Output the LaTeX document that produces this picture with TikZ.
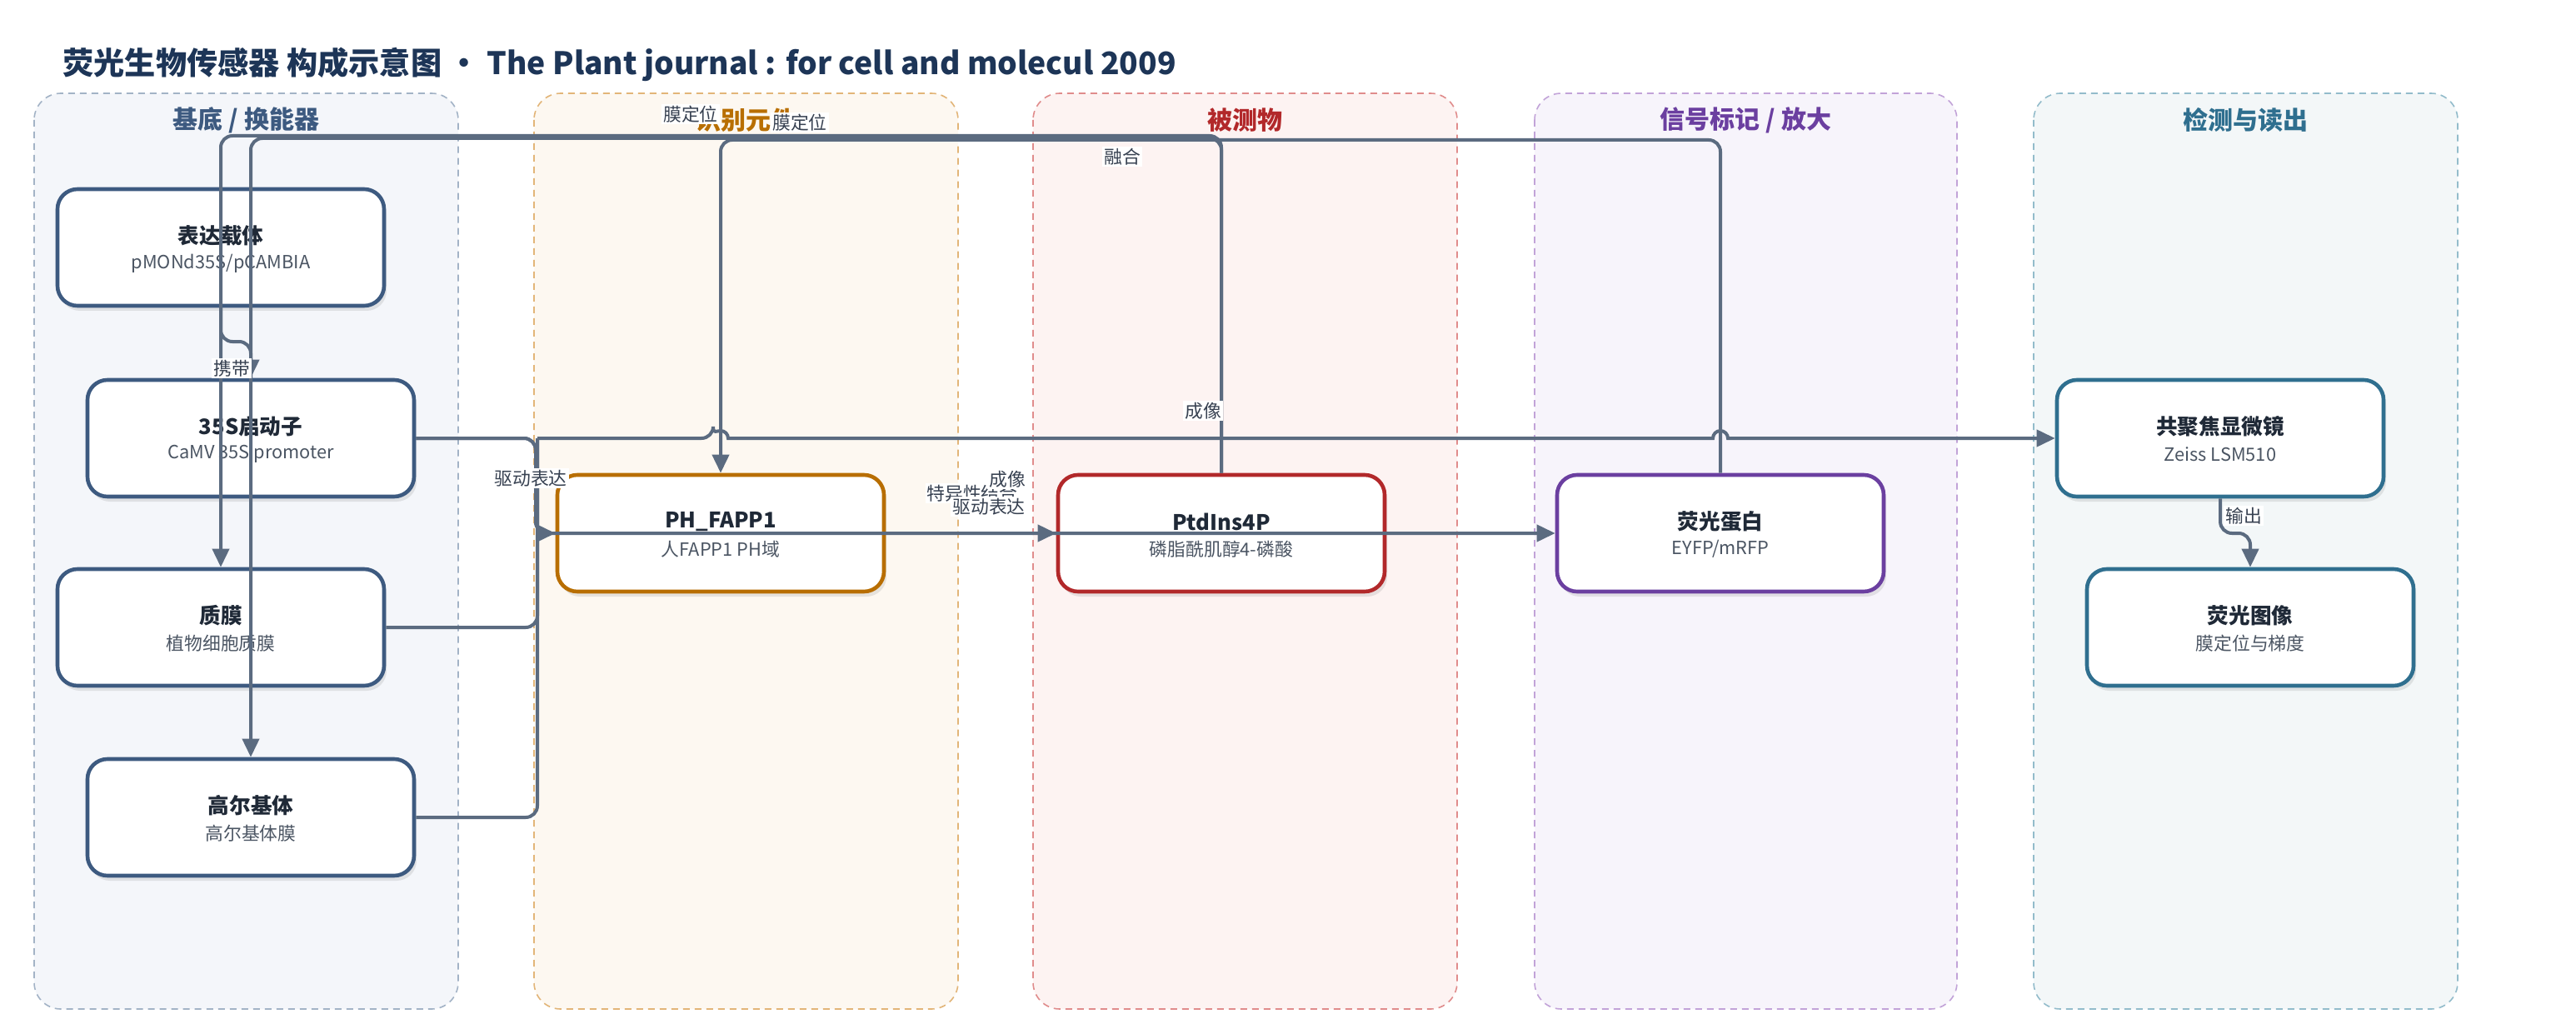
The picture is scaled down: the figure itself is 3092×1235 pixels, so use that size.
\documentclass[tikz,border=0pt]{standalone}
\usepackage{fontspec}
\setmainfont{Noto Sans CJK SC}
\usetikzlibrary{arrows.meta,shadows,calc}
\definecolor{edgec}{HTML}{5B6B80}
\definecolor{titlec}{HTML}{1D3557}
\definecolor{ntc}{HTML}{1F2937}
\definecolor{nsc}{HTML}{4B5563}
\definecolor{lblc}{HTML}{374151}
\definecolor{cA}{HTML}{3D5A80}\definecolor{fA}{HTML}{F4F6FA}\definecolor{bA}{HTML}{A3B3C6}
\definecolor{cB}{HTML}{B86E00}\definecolor{fB}{HTML}{FDF8F1}\definecolor{bB}{HTML}{E2B578}
\definecolor{cC}{HTML}{B2282A}\definecolor{fC}{HTML}{FDF3F2}\definecolor{bC}{HTML}{E08C8C}
\definecolor{cD}{HTML}{6B3FA0}\definecolor{fD}{HTML}{F7F4FB}\definecolor{bD}{HTML}{C2A3D8}
\definecolor{cE}{HTML}{2F6F8F}\definecolor{fE}{HTML}{F3F7F8}\definecolor{bE}{HTML}{93BCCB}
\newcommand\mknode[6]{%
  \node[nbox=#4] (#1) at (#2,#3) {};
  \node[ntitle] (#1-t) at (#2,#3-14) {#5};
  \node[nsub] (#1-s) at (#2,#3+19) {#6};
}
\newcommand\mklane[7]{%
  \draw[lanebox, fill=#6, draw=#7] (#1,112) rectangle (#2,1211);
  \node[lanetitle, text=#5] (#3) at ({(#1+#2)/2},144) {#4};
}
\begin{document}
\begin{tikzpicture}[x=0.5pt,y=-0.5pt,
  nbox/.style={draw=#1, line width=2.3pt, fill=white, rounded corners=12pt,
    minimum width=196pt, minimum height=70pt, inner sep=0pt,
    drop shadow={shadow xshift=1.5pt, shadow yshift=-3pt, opacity=0.15, fill=black!60}},
  ntitle/.style={font=\fontsize{12.8}{14}\selectfont\bfseries, text=ntc, inner sep=0pt},
  nsub/.style={font=\fontsize{10.9}{12}\selectfont, text=nsc, inner sep=0pt},
  lanebox/.style={line width=0.8pt, dash pattern=on 4pt off 3pt, rounded corners=16pt},
  lanetitle/.style={font=\fontsize{15}{17}\selectfont\bfseries, inner sep=0pt},
  edge/.style={draw=edgec, line width=2pt, rounded corners=7pt,
    -{Triangle[length=11pt,width=10pt]}},
  plain/.style={draw=edgec, line width=2pt, rounded corners=7pt},
  lbl/.style={fill=white, inner sep=1pt, text=lblc, font=\fontsize{10.9}{12}\selectfont}]
\useasboundingbox (0,0) rectangle (3092,1235);
\fill[white] (0,0) rectangle (3092,1235);
% title
\node[anchor=west, inner sep=0pt, text=titlec, font=\fontsize{18.6}{21}\selectfont\bfseries] (title) at (75,77)
  {荧光生物传感器 构成示意图 • The Plant journal : for cell and molecul 2009};
% lanes
\mklane{41}{550}{laneA}{基底 / 换能器}{cA}{fA}{bA}
\mklane{641}{1150}{laneB}{识别元件}{cB}{fB}{bB}
\mklane{1240}{1749}{laneC}{被测物}{cC}{fC}{bC}
\mklane{1842}{2349}{laneD}{信号标记 / 放大}{cD}{fD}{bD}
\mklane{2441}{2950}{laneE}{检测与读出}{cE}{fE}{bE}
% nodes
\mknode{carrier}{265}{297}{cA}{表达载体}{pMONd35S/pCAMBIA}
\mknode{prom}{301}{526}{cA}{35S启动子}{CaMV 35S promoter}
\mknode{mem}{265}{753}{cA}{质膜}{植物细胞质膜}
\mknode{golgi}{301}{981}{cA}{高尔基体}{高尔基体膜}
\mknode{ph}{865}{640}{cB}{PH\_FAPP1}{人FAPP1 PH域}
\mknode{ptd}{1466}{640}{cC}{PtdIns4P}{磷脂酰肌醇4-磷酸}
\mknode{fp}{2065}{640}{cD}{荧光蛋白}{EYFP/mRFP}
\mknode{conf}{2665}{526}{cE}{共聚焦显微镜}{Zeiss LSM510}
\mknode{img}{2701}{753}{cE}{荧光图像}{膜定位与梯度}
% edges: top
\draw[edge] (ptd.north) -- (1466,163) -| (mem.north);
\draw[edge] (ptd.north) -- (1466,166) -| (golgi.north);
\draw[edge] (fp.north) -- (2065,168) -| (ph.north);
\draw[edge] (carrier.south) -- (265,410) -| (prom.north);
% trunk
\draw[edge] (prom.east) -- (643,526) |- (ph.west);
\draw[edge] (prom.east) -- (643,526) |- (fp.west);
\draw[edge] (ph.east) -- (ptd.west);
\draw[plain] (mem.east) -| (645,526);
\draw[plain] (golgi.east) -| (645,526);
\draw[edge] (645,526) [rounded corners=7pt] -- (856,526) [sharp corners] arc[start angle=180,end angle=0,radius=4.5pt] -- (2056,526) arc[start angle=180,end angle=0,radius=4.5pt] -- (conf.west);
\draw[edge] (conf.south) -- (2665,640) -| (img.north);
% labels
\node[lbl] (l1) at (278,442) {携带};
\node[lbl] (l2) at (829,137) {膜定位};
\node[lbl] (l3) at (960,147) {膜定位};
\node[lbl] (l4) at (1347,188) {融合};
\node[lbl] (l5) at (637,574) {驱动表达};
\node[lbl] (l6) at (1444,493) {成像};
\node[lbl] (l7) at (1167,592) {特异性结合};
\node[lbl] (l8) at (1187,608) {驱动表达};
\node[lbl] (l9) at (1209,575) {成像};
\node[lbl] (l10) at (2693,619) {输出};
\end{tikzpicture}
\end{document}
